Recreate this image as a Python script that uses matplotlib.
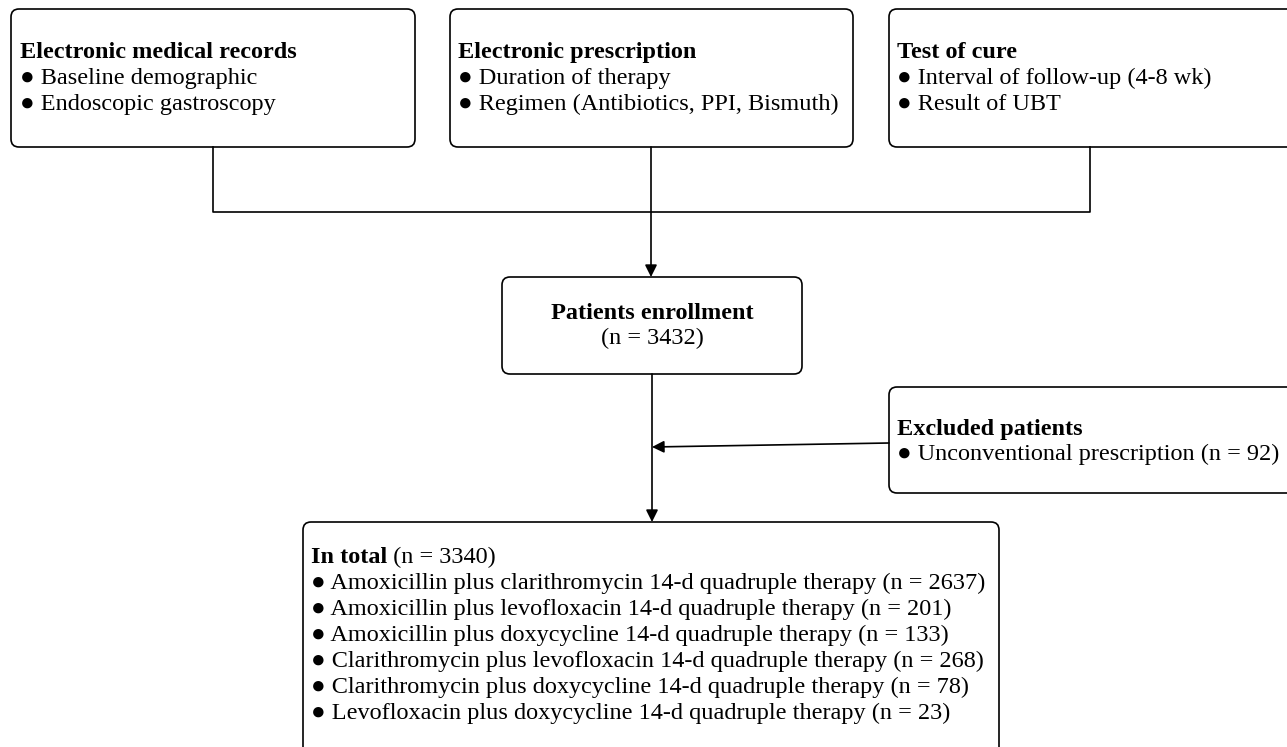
import matplotlib
matplotlib.use("Agg")
import matplotlib.pyplot as plt
from matplotlib.patches import FancyBboxPatch

plt.rcParams['font.family'] = ['Liberation Serif', 'DejaVu Serif']

# box texts
records_title = "Electronic medical records"
records_items = ["Baseline demographic", "Endoscopic gastroscopy"]
prescription_title = "Electronic prescription"
prescription_items = ["Duration of therapy", "Regimen (Antibiotics, PPI, Bismuth)"]
cure_title = "Test of cure"
cure_items = ["Interval of follow-up (4-8 wk)", "Result of UBT"]
enrolled_n = 3432
excluded_title = "Excluded patients"
excluded_items = ["Unconventional prescription (n = 92)"]
total_n = 3340
regimens = [
    "Amoxicillin plus clarithromycin 14-d quadruple therapy",
    "Amoxicillin plus levofloxacin 14-d quadruple therapy",
    "Amoxicillin plus doxycycline 14-d quadruple therapy",
    "Clarithromycin plus levofloxacin 14-d quadruple therapy",
    "Clarithromycin plus doxycycline 14-d quadruple therapy",
    "Levofloxacin plus doxycycline 14-d quadruple therapy",
]
regimen_n = [2637, 201, 133, 268, 78, 23]

W, H = 1287, 747
fig = plt.figure(figsize=(W / 100, H / 100), dpi=100)
ax = fig.add_axes([0, 0, 1, 1])
ax.set_xlim(0, W)
ax.set_ylim(H, 0)
ax.axis('off')

FS = 17.5
LH = 26
LW = 1.2


def box(x0, y0, x1, y1):
    p = FancyBboxPatch((x0, y0), x1 - x0, y1 - y0,
                       boxstyle="round,pad=0,rounding_size=8",
                       fc='white', ec='black', lw=LW)
    ax.add_patch(p)


def arrow(x0, y0, x1, y1):
    ax.annotate("", xy=(x1, y1), xytext=(x0, y0),
                arrowprops=dict(arrowstyle='-|>', color='black', lw=LW,
                                mutation_scale=18, shrinkA=0, shrinkB=0))


def list_box(x, y, title, items, lh=LH):
    ax.text(x, y, title, fontsize=FS, fontweight='bold', va='baseline')
    for i, s in enumerate(items):
        ax.text(x, y + lh * (i + 1), "\u25cf " + s, fontsize=FS, va='baseline')


# top boxes
box(11, 9, 415, 147)
box(450, 9, 853, 147)
box(889, 9, 1300, 147)
list_box(20, 58, records_title, records_items)
list_box(458, 58, prescription_title, prescription_items)
list_box(897, 58, cure_title, cure_items)

# connectors
ax.plot([213, 213, 1090, 1090], [147, 212, 212, 147], color='black', lw=LW)
arrow(651, 147, 651, 277)

# enrollment
box(502, 277, 802, 374)
ax.text(652, 319, "Patients enrollment", fontsize=FS, fontweight='bold',
        ha='center', va='baseline')
ax.text(652, 344, f"(n = {enrolled_n})", fontsize=FS, ha='center', va='baseline')

arrow(652, 374, 652, 522)

# excluded
box(889, 387, 1300, 493)
list_box(897, 435, excluded_title, excluded_items, lh=25)
arrow(889, 443, 652, 447)

# total
box(303, 522, 999, 760)
t = ax.text(311, 563, "In total", fontsize=FS, fontweight='bold', va='baseline')
ax.annotate(f" (n = {total_n})", xy=(1, 0), xycoords=t, fontsize=FS,
            va='bottom', ha='left')
for i, (s, n) in enumerate(zip(regimens, regimen_n)):
    ax.text(311, 563 + LH * (i + 1), f"\u25cf {s} (n = {n})", fontsize=FS,
            va='baseline')

fig.savefig("out.png", dpi=100)
